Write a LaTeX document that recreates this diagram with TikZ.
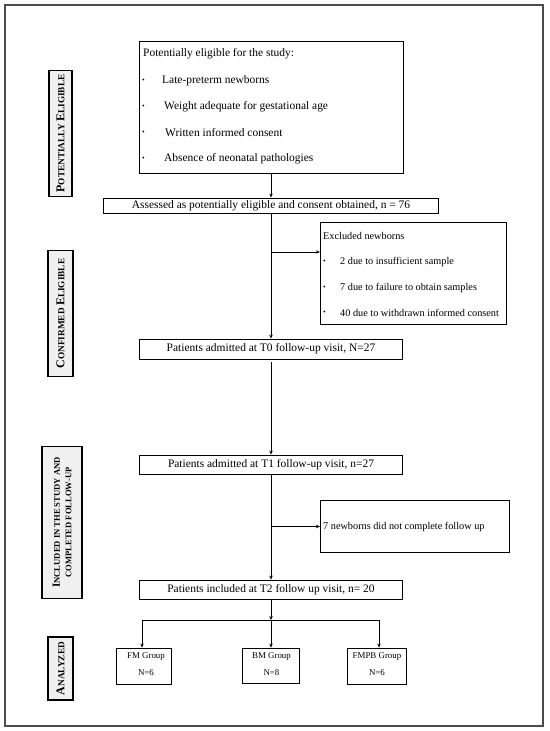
\documentclass[tikz,border=0pt]{standalone}
\usepackage{fontspec}
\setmainfont{Liberation Serif}
\usetikzlibrary{arrows.meta,calc}
\newcommand{\fsz}[1]{\fontsize{#1}{#1}\selectfont}
\newcommand{\scb}[2]{{\fsz{12}#1}{\fsz{9.3}#2}}
\newcommand{\scc}[2]{{\fsz{11}#1}{\fsz{8.6}#2}}
\begin{document}
\begin{tikzpicture}[x=1bp,y=-1bp,
  box/.style={draw, line width=0.9bp, inner sep=0pt},
  txt/.style={inner sep=0pt, anchor=west, font=\fsz{11.5}},
  stxt/.style={inner sep=0pt, anchor=west, font=\fsz{10.3}},
  gtxt/.style={inner sep=0pt, font=\fsz{8.9}},
  bul/.style={inner sep=0pt, anchor=west, font=\fsz{7.5}},
  side/.style={draw, fill=black!6, line width=1.4bp, inner sep=0pt, rotate=90, font=\bfseries, align=center},
  arr/.style={line width=1bp, -{Stealth[length=4bp,width=3.5bp]}},
  ln/.style={line width=1bp}]
\useasboundingbox (0,0) rectangle (550,731);
\fill[white] (0,0) rectangle (550,731);
\draw[black!70, line width=1.5bp] (5,5) rectangle (543,726);

% side labels
\node[side, minimum width=127, minimum height=23] (l1) at (60.5,133.5) {\scb{P}{OTENTIALLY} \scb{E}{LIGIBLE}};
\node[side, minimum width=127, minimum height=25] (l2) at (60.5,313.5) {\scb{C}{ONFIRMED} \scb{E}{LIGIBLE}};
\node[side, minimum width=153, minimum height=40] (l3) at (62,522.5) {\scc{I}{NCLUDED IN THE STUDY AND}\\[-0.5bp]{\fsz{8.6}COMPLETED FOLLOW-UP}};
\node[side, minimum width=63, minimum height=25] (l4) at (60.5,668.5) {\scb{A}{NALYZED}};

% top box
\node[box, minimum width=265, minimum height=133] (elig) at (271,107.5) {};
\node[txt] (e0) at (143,54) {Potentially eligible for the study:};
\node[bul] (b1) at (142,81) {•};
\node[txt] (e1) at (162,81) {Late-preterm newborns};
\node[bul] (b2) at (142,107) {•};
\node[txt] (e2) at (164,107) {Weight adequate for gestational age};
\node[bul] (b3) at (142,133) {•};
\node[txt] (e3) at (165,133) {Written informed consent};
\node[bul] (b4) at (142,159) {•};
\node[txt] (e4) at (164,159) {Absence of neonatal pathologies};

% assessed
\node[box, minimum width=336, minimum height=15, font=\fsz{11.5}] (ass) at (271,205.5) {Assessed as potentially eligible and consent obtained, n = 76};

% excluded
\node[box, minimum width=187, minimum height=103] (exc) at (413.5,273.5) {};
\node[stxt] (x0) at (323,236) {Excluded newborns};
\node[bul] (xb1) at (323,262) {•};
\node[stxt] (x1) at (340,262) {2 due to insufficient sample};
\node[bul] (xb2) at (323,288) {•};
\node[stxt] (x2) at (340,288) {7 due to failure to obtain samples};
\node[bul] (xb3) at (323,313) {•};
\node[stxt] (x3) at (340,313) {40 due to withdrawn informed consent};

% T0, T1
\node[box, minimum width=264, minimum height=20, font=\fsz{11.5}] (t0) at (271,349) {Patients admitted at T0 follow-up visit, N=27};
\node[box, minimum width=264, minimum height=19, font=\fsz{11.5}] (t1) at (271,464.5) {Patients admitted at T1 follow-up visit, n=27};

% 7 newborns
\node[box, minimum width=190, minimum height=53] (nf) at (415,526.5) {};
\node[stxt] (nft) at (323,526.5) {7 newborns did not complete follow up};

% T2
\node[box, minimum width=264, minimum height=19, font=\fsz{11.5}] (t2) at (271,589.5) {Patients included at T2 follow up visit, n= 20};

% groups
\node[box, minimum width=56, minimum height=37] (fm) at (144,666.5) {};
\node[gtxt] (fm1) at (146,657) {FM Group};
\node[gtxt] (fm2) at (146,673) {N=6};
\node[box, minimum width=57, minimum height=36] (bm) at (271,666) {};
\node[gtxt] (bm1) at (271.5,657) {BM Group};
\node[gtxt] (bm2) at (271.5,673) {N=8};
\node[box, minimum width=60, minimum height=37] (fp) at (377,666.5) {};
\node[gtxt] (fp1) at (377,657) {FMPB Group};
\node[gtxt] (fp2) at (377,673) {N=6};

% connectors
\draw[arr] (elig.south) -- (ass.north);
\coordinate (j1) at (271,252);
\draw[arr] (ass.south) -- (t0.north);
\draw[arr] (j1) -- (j1 -| exc.west);
\draw[arr, shorten <=3bp] (t0.south) -- (t1.north);
\coordinate (j2) at (271,526.5);
\draw[arr] (t1.south) -- (t2.north);
\draw[arr] (j2) -- (j2 -| nf.west);
\coordinate (j3) at (271,620);
\draw[arr] (t2.south) -- (j3);
\coordinate (gl) at (142,620);
\coordinate (gr) at (379,620);
\draw[ln] (gl) -- (gr);
\draw[arr] (gl) -- (gl |- fm.north);
\draw[arr] (j3) -- (bm.north);
\draw[arr] (gr) -- (gr |- fp.north);
\end{tikzpicture}
\end{document}
